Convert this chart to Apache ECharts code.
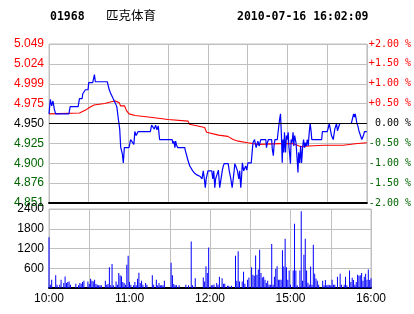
<!DOCTYPE html>
<html><head><meta charset="utf-8">
<script src="https://cdn.jsdelivr.net/npm/echarts@6/dist/echarts.min.js"></script>
<style>html,body{margin:0;padding:0;background:#fff}#c{width:414px;height:314px}</style>
</head><body><div id="c"></div>
<script>
const stockCode = '01968';
const stockName = '匹克体育';
const stamp = '2010-07-16 16:02:09';
const prevClose = 4.950;
const priceTickLabels = ['4.851','4.876','4.900','4.925','4.950','4.975','4.999','5.024','5.049'];
const pctTickLabels = ['-2.00 %','-1.50 %','-1.00 %','-0.50 %',' 0.00 %','+0.50 %','+1.00 %','+1.50 %','+2.00 %'];
const timeTicks = [0, 60, 120, 180, 240];
const timeLabels = ['10:00', '11:00', '12:00', '15:00', '16:00'];

// minutes since 10:00 (trading minutes) and last price
const priceMin = [0,1,2,3,4,5,15,16,22,23,25,25.5,27,27.5,29.5,30,33,33.8,34.3,35,44,45.5,46.7,48.4,49.9,51.2,52.4,53.4,54.1,55.4,56.1,56.9,60.4,61.6,62.8,64.1,64.8,65.8,67.3,76.5,77.5,78.5,79.5,80.5,81.5,82.5,83.5,93,93.6,94.3,95.1,95.6,96.3,97.3,102.5,103,104.3,105.3,106.3,107.5,108.5,110,111.7,114.2,115.5,116.5,117.3,118,118.7,120,122.9,123.7,124.4,125.2,125.8,127.1,127.9,128.9,129.9,130.9,131.6,132.3,135.3,136.1,137.3,138.3,139.1,139.8,140.3,141,142.3,143.3,144,144.8,145.3,146,147,148.5,149.3,150.2,152.7,154,155.2,156.4,157.7,158.7,159.9,163.7,164.2,164.9,165.7,168.1,168.6,169.4,169.9,170.6,172.4,173.1,174.1,174.8,175.5,176.1,176.6,177.3,177.8,178.6,179.3,179.8,180.6,181.1,181.8,182.3,182.8,183.5,184.3,184.8,185.5,186.5,187.3,188,188.5,189.3,190,190.7,191.5,192.2,193,193.5,194.2,195,195.7,196.5,197.2,198,198.4,205.9,206.4,210.1,210.9,211.6,212.4,213.3,214.6,215.8,217.1,217.8,218.8,219.6,228.3,229,230,230.7,231.2,232,232.5,233.2,234,235.2,236.2,237.4,238.2,240];
const priceVal = [4.962,4.980,4.972,4.978,4.968,4.962,4.962,4.971,4.971,4.981,4.981,4.987,4.987,4.992,4.992,5.001,5.001,5.007,5.011,5.002,5.002,4.992,4.987,4.981,4.976,4.971,4.955,4.943,4.921,4.912,4.901,4.920,4.920,4.930,4.930,4.924,4.940,4.935,4.940,4.940,4.948,4.950,4.943,4.948,4.942,4.947,4.930,4.930,4.925,4.928,4.920,4.928,4.923,4.920,4.920,4.916,4.908,4.902,4.897,4.895,4.891,4.888,4.886,4.884,4.881,4.891,4.881,4.870,4.881,4.891,4.891,4.881,4.891,4.870,4.881,4.881,4.892,4.870,4.881,4.892,4.897,4.900,4.900,4.891,4.881,4.870,4.881,4.891,4.900,4.897,4.891,4.881,4.891,4.870,4.881,4.901,4.891,4.897,4.892,4.901,4.901,4.926,4.930,4.920,4.928,4.922,4.930,4.930,4.920,4.926,4.930,4.930,4.918,4.910,4.922,4.930,4.930,4.941,4.955,4.962,4.935,4.901,4.930,4.914,4.939,4.914,4.935,4.930,4.939,4.922,4.910,4.900,4.930,4.926,4.939,4.922,4.935,4.926,4.907,4.889,4.914,4.901,4.922,4.901,4.920,4.930,4.920,4.926,4.922,4.930,4.922,4.939,4.950,4.939,4.930,4.930,4.940,4.940,4.945,4.950,4.943,4.935,4.930,4.943,4.950,4.941,4.941,4.950,4.950,4.955,4.962,4.958,4.962,4.955,4.950,4.947,4.941,4.935,4.930,4.935,4.940,4.940];

// average price
const avgMin = [0,23,28,30.5,34,42,47,50,53,54,57,58.5,60.5,65,75,90,105,106,115,117.5,119,128,135,139,143,150,158,174,184,189,191,196,208,222,233,240];
const avgVal = [4.962,4.963,4.967,4.970,4.973,4.975,4.977,4.978,4.976,4.972,4.972,4.966,4.962,4.960,4.958,4.955,4.953,4.949,4.946,4.945,4.939,4.9355,4.934,4.930,4.928,4.926,4.924,4.925,4.925,4.922,4.921,4.922,4.923,4.923,4.925,4.926];

// volume per minute
const volMin = [0,1,2,5,6,8,9,11,12,13,14,15,16,20,22,23,24,25,26,29,30,31,32,33,34,35,36,37,38,39,42,43,44,45,46,47,48,50,51,52,53,54,55,56,57,58,59,60,61,63,64,65,66,67,68,69,70,72,73,77,78,80,81,82,83,84,85,86,91,92,93,94,95,97,102,104,106,107,109,115,116,117,118,119,121,122,123,125,126,127,129,130,131,133,134,136,139,140,141,142,144,145,146,148,149,151,152,153,154,155,156,157,158,159,160,161,162,163,164,165,166,167,168,169,170,171,172,173,174,175,176,177,178,179,180,182,183,184,185,187,188,189,190,191,192,193,194,195,196,197,198,199,200,201,204,205,206,207,208,209,210,211,212,213,215,217,218,220,221,222,224,225,226,227,228,229,230,231,232,233,234,235,236,237,238,239,240];
const volVal = [1540,100,250,385,100,100,250,150,350,150,180,200,100,130,80,150,130,180,220,200,120,280,220,200,250,120,100,80,80,80,220,100,120,630,80,730,80,200,100,455,385,355,180,150,100,710,980,180,100,80,180,80,280,465,150,220,100,150,100,385,100,250,80,150,80,80,80,220,770,385,120,80,80,80,100,80,1410,80,300,320,200,660,455,1230,80,80,110,150,100,345,300,130,130,70,70,70,980,220,1115,200,200,495,130,250,320,630,405,375,990,405,560,1165,455,320,345,250,150,220,100,100,1340,100,345,580,660,250,250,250,1145,650,1500,630,250,530,100,530,1955,530,80,530,2330,220,1010,1500,530,160,100,650,100,1315,435,285,220,100,220,80,245,80,100,80,80,250,100,100,345,435,100,100,345,80,530,180,315,245,100,180,405,375,385,455,220,345,435,250,560,245,300];

const GRAY = '#c0c0c0', RED = '#ff0000', GREEN = '#006400', BLUE = '#0000ff';
const toPct = p => (p / prevClose - 1) * 100;
const idxOf = v => Math.round((Number(v) + 2) / 0.5);
const colorOf = v => { const i = idxOf(v); return i > 4 ? RED : (i < 4 ? GREEN : '#000'); };

const chart = echarts.init(document.getElementById('c'), null, {renderer: 'canvas'});
const xBase = (gi, showLabel) => ({
  type: 'value', gridIndex: gi, min: 0, max: 240, interval: 30,
  axisLine: {show: true, onZero: false, lineStyle: {color: '#000', width: 2}},
  axisTick: {show: false},
  splitLine: {show: true, lineStyle: {color: GRAY, width: 1}},
  axisLabel: {show: showLabel, margin: 5, color: '#000', fontSize: 12, fontFamily: 'Liberation Sans, Arial',
    showMinLabel: true, showMaxLabel: true,
    formatter: v => { const i = timeTicks.indexOf(Math.round(v)); return i >= 0 ? timeLabels[i] : ''; }}
});
chart.setOption({
  animation: false,
  backgroundColor: '#fff',
  graphic: [
    {type: 'text', left: 50, top: 11, style: {text: stockCode, font: 'bold 11.5px "DejaVu Sans Mono"', fill: '#000'}},
    {type: 'text', left: 106, top: 9, style: {text: stockName, font: '12.5px "Noto Sans CJK SC"', fill: '#000'}},
    {type: 'text', left: 237, top: 11, style: {text: stamp, font: 'bold 11.5px "DejaVu Sans Mono"', fill: '#000'}}
  ],
  grid: [
    {left: 49, top: 44, width: 322, height: 159, show: true, borderColor: GRAY, borderWidth: 1, containLabel: false},
    {left: 49, top: 209, width: 322, height: 79, show: true, borderColor: GRAY, borderWidth: 1, containLabel: false}
  ],
  xAxis: [xBase(0, false), xBase(1, true)],
  yAxis: [
    {type: 'value', gridIndex: 0, position: 'left', min: -2, max: 2, interval: 0.5,
      axisLine: {show: false}, axisTick: {show: false},
      splitLine: {show: true, lineStyle: {color: GRAY}},
      axisLabel: {margin: 5, fontSize: 12, fontFamily: 'Liberation Sans, Arial', showMinLabel: true, showMaxLabel: true,
        formatter: v => priceTickLabels[idxOf(v)], color: v => colorOf(v)}},
    {type: 'value', gridIndex: 0, position: 'right', min: -2, max: 2, interval: 0.5,
      axisLine: {show: false}, axisTick: {show: false}, splitLine: {show: false},
      axisLabel: {margin: 2, fontSize: 10, fontFamily: 'DejaVu Sans Mono', showMinLabel: true, showMaxLabel: true,
        formatter: v => pctTickLabels[idxOf(v)], color: v => colorOf(v)}},
    {type: 'value', gridIndex: 1, position: 'left', min: 0, max: 2400, interval: 600,
      axisLine: {show: false}, axisTick: {show: false},
      splitLine: {show: true, lineStyle: {color: GRAY}},
      axisLabel: {margin: 5, fontSize: 12, fontFamily: 'Liberation Sans, Arial', color: '#000', showMaxLabel: true,
        formatter: v => v === 0 ? '' : String(v)}}
  ],
  series: [
    {type: 'line', xAxisIndex: 0, yAxisIndex: 0, showSymbol: false, symbol: 'none',
      data: priceMin.map((m, i) => [m, toPct(priceVal[i])]),
      lineStyle: {color: BLUE, width: 1.2}, itemStyle: {color: BLUE}, z: 4,
      markLine: {silent: true, symbol: 'none', label: {show: false}, animation: false,
        lineStyle: {color: '#000', type: 'solid', width: 1}, data: [{yAxis: 0}]}},
    {type: 'line', xAxisIndex: 0, yAxisIndex: 0, showSymbol: false, symbol: 'none',
      data: avgMin.map((m, i) => [m, toPct(avgVal[i])]),
      lineStyle: {color: RED, width: 1.1}, itemStyle: {color: RED}, z: 3},
    {type: 'bar', xAxisIndex: 1, yAxisIndex: 2, barWidth: 1,
      data: volMin.map((m, i) => [m, volVal[i]]),
      itemStyle: {color: BLUE}}
  ]
});
</script></body></html>
